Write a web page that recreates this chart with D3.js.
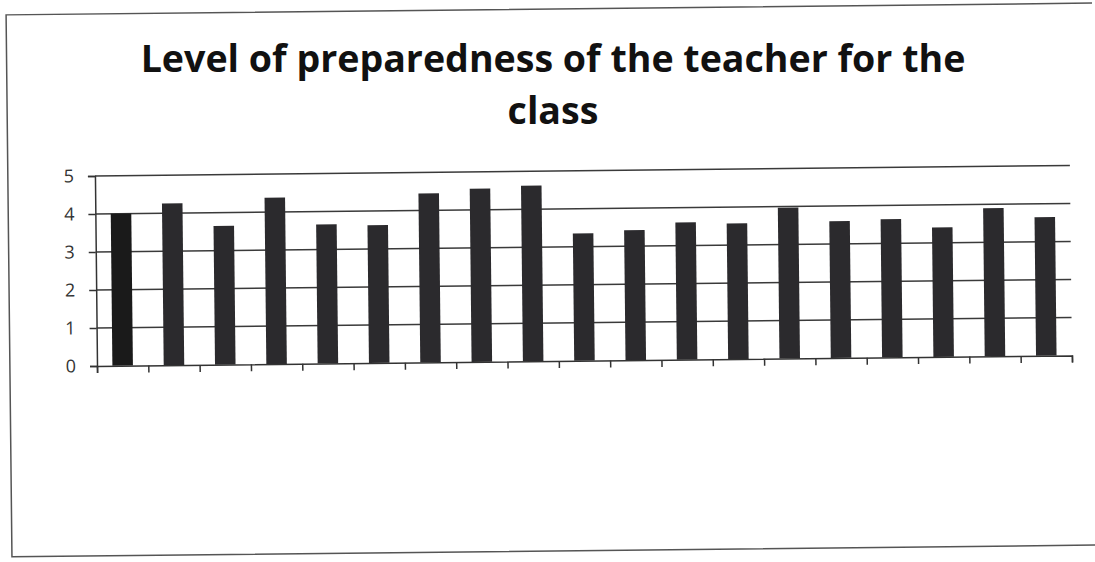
<!DOCTYPE html>
<html lang="en">
<head>
  <meta charset="UTF-8">
  <title>Level of preparedness of the teacher for the class</title>
  <script src="https://d3js.org/d3.v7.min.js"></script>
  <style>
    body {
      margin: 0;
      background: #fff;
    }
    svg {
      display: block;
    }
    .title {
      font-family: "Open Sans", Lato, sans-serif;
      font-weight: bold;
      fill: #111;
    }
  </style>
</head>
<body>

<svg width="1095" height="562"></svg>

<script>
// items 1..19 (category labels are unreadable in the scan)
const items = d3.range(1, 20).map(String);
const scores = [4.0, 4.26, 3.65, 4.38, 3.66, 3.63, 4.45, 4.56, 4.62, 3.35,
                3.42, 3.61, 3.57, 3.97, 3.6, 3.64, 3.41, 3.9, 3.65];
const yTicks = [0, 1, 2, 3, 4, 5];
const titleLines = ["Level of preparedness of the teacher for the", "class"];

const svg = d3.select("svg");
const margin = {left: 97, right: 23, top: 176, bottom: 196};
const width = 1095 - margin.left - margin.right,
      height = 562 - margin.top - margin.bottom;

// the scanned page is slightly tilted
const tilt = -0.62;

// frame (top, left, bottom edges only)
svg.append("path")
  .attr("d", "M1095,9 H9 V551 H1095")
  .attr("fill", "none")
  .attr("stroke", "#555")
  .attr("stroke-width", 1.5)
  .attr("transform", `rotate(${tilt},550,281)`);

const title = svg.selectAll("text.title")
  .data(titleLines)
  .enter().append("text")
  .attr("class", "title")
  .attr("x", 553)
  .attr("y", (d, i) => 72 + i * 52)
  .attr("text-anchor", "middle")
  .attr("font-size", 34)
  .text(d => d);

// scale the title so the first line spans about 825px as in the scan
const w0 = title.node().getComputedTextLength();
title.attr("font-size", 34 * 825 / w0);

const g = svg.append("g")
  .attr("transform", `rotate(${tilt},${margin.left},${margin.top + height}) translate(${margin.left},${margin.top})`);

const x = d3.scaleBand().domain(items).range([0, width]).paddingInner(0.6).paddingOuter(0.3);
const y = d3.scaleLinear().domain([0, 5]).range([height, 0]);

// gridlines
g.selectAll(".grid")
  .data(yTicks.filter(d => d > 0))
  .enter().append("line")
  .attr("class", "grid")
  .attr("x1", 0)
  .attr("x2", width)
  .attr("y1", d => y(d))
  .attr("y2", d => y(d))
  .attr("stroke", "#3a3a3a")
  .attr("stroke-width", 1.5);

g.selectAll(".bar")
  .data(scores)
  .enter().append("rect")
  .attr("class", "bar")
  .attr("x", (d, i) => x(items[i]))
  .attr("y", d => y(d))
  .attr("width", x.bandwidth())
  .attr("height", d => height - y(d))
  .attr("fill", (d, i) => i === 0 ? "#1a1a1a" : "#2b2a2d");

// y axis
const yAxis = g.append("g")
  .call(d3.axisLeft(y).tickValues(yTicks).tickFormat(d3.format("d")).tickSize(7).tickPadding(14));
yAxis.attr("font-family", "\"Open Sans\", \"Noto Sans\", sans-serif").attr("font-size", 18);
yAxis.selectAll("text").attr("fill", "#333");
yAxis.select(".domain").attr("stroke", "#333").attr("stroke-width", 1.5);
yAxis.selectAll(".tick line").attr("stroke", "#333").attr("stroke-width", 1.5);

// x axis: tick marks between the bars, labels lost in the scan
const xb = d3.scaleLinear().domain([0, items.length]).range([0, width]);
const xAxis = g.append("g")
  .attr("transform", `translate(0,${height})`)
  .call(d3.axisBottom(xb).tickValues(d3.range(0, items.length + 1)).tickSize(7).tickFormat(""));
xAxis.select(".domain").attr("stroke", "#333").attr("stroke-width", 1.5);
xAxis.selectAll(".tick line").attr("stroke", "#333").attr("stroke-width", 1.5);
</script>
</body>
</html>
